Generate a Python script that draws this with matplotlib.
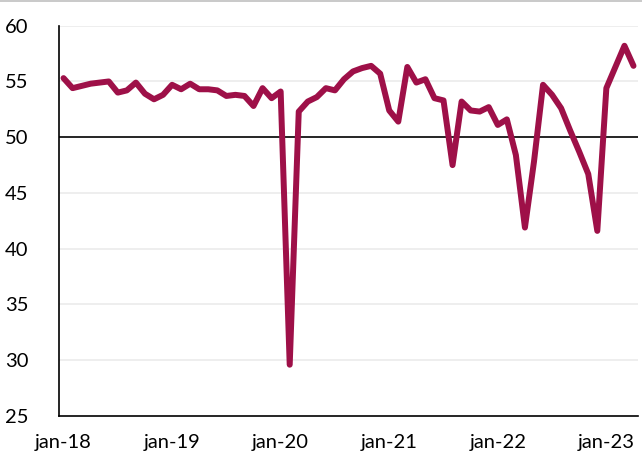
import numpy as np
import matplotlib
matplotlib.use("Agg")
import matplotlib.pyplot as plt
from matplotlib.lines import Line2D

# Monthly values, jan-18 .. apr-23
values_2018 = [55.3, 54.4, 54.6, 54.8, 54.9, 55.0, 54.0, 54.2, 54.9, 53.9, 53.4, 53.8]
values_2019 = [54.7, 54.3, 54.8, 54.3, 54.3, 54.2, 53.7, 53.8, 53.7, 52.8, 54.4, 53.5]
values_2020 = [54.1, 29.6, 52.3, 53.2, 53.6, 54.4, 54.2, 55.2, 55.9, 56.2, 56.4, 55.7]
values_2021 = [52.4, 51.4, 56.3, 54.9, 55.2, 53.5, 53.3, 47.5, 53.2, 52.4, 52.3, 52.7]
values_2022 = [51.1, 51.6, 48.4, 41.9, 47.8, 54.7, 53.8, 52.6, 50.6, 48.7, 46.7, 41.6]
values_2023 = [54.4, 56.3, 58.2, 56.4]
values = values_2018 + values_2019 + values_2020 + values_2021 + values_2022 + values_2023

tick_labels = ["jan-18", "jan-19", "jan-20", "jan-21", "jan-22", "jan-23"]
y_ticks = [25, 30, 35, 40, 45, 50, 55, 60]

plt.rcParams['font.family'] = ['Lato', 'DejaVu Sans']

fig = plt.figure(figsize=(6.42, 4.59), dpi=100)
ax = fig.add_axes([0.0919, 0.0937, 0.9019, 0.8503])

x = np.arange(len(values))
ax.plot(x, values, color='#9E1048', linewidth=4.3, solid_joinstyle='round',
        solid_capstyle='round', zorder=3)
ax.axhline(50, color='black', linewidth=1.2, zorder=2)

ax.set_xlim(-0.5, len(values) - 0.5)
ax.set_ylim(25, 60)
ax.set_yticks(y_ticks)
ax.set_yticklabels([str(v) for v in y_ticks])
ax.set_xticks(np.arange(0, len(values), 12))
ax.set_xticklabels(tick_labels)

for v in y_ticks:
    if v not in (25, 50):
        ax.axhline(v, color='#EBEBEB', linewidth=1.2, zorder=1)

for s in ['top', 'right']:
    ax.spines[s].set_visible(False)
for s in ['left', 'bottom']:
    ax.spines[s].set_color('black')
    ax.spines[s].set_linewidth(1.2)

ax.tick_params(axis='both', length=0, labelsize=14.5, colors='black')
ax.tick_params(axis='y', pad=22)
ax.tick_params(axis='x', pad=13)

fig.add_artist(Line2D([0, 1], [0.998, 0.998], color='#C0C0C0', linewidth=1.2,
                      transform=fig.transFigure))

fig.savefig('out.png', dpi=100)
